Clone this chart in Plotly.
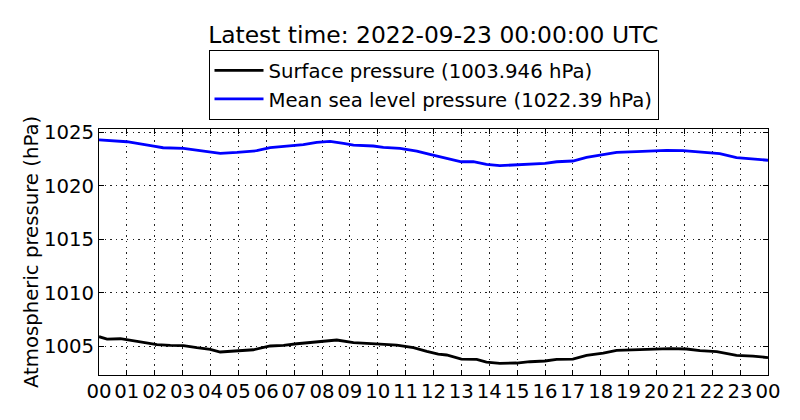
import pandas as pd
import plotly.graph_objects as go

# ---- data ----
surf_hours = [0.0, 0.29, 0.77, 1.24, 1.72, 2.08, 2.56, 3.03, 3.51, 3.99, 4.35, 4.95, 5.54,
              6.14, 6.62, 7.1, 7.57, 8.05, 8.53, 9.13, 9.6, 10.08, 10.68, 11.28, 11.76,
              12.17, 12.47, 13.0, 13.55, 13.9, 14.38, 14.98, 15.46, 16.0, 16.42, 17.0,
              17.49, 18.09, 18.57, 19.28, 20.0, 20.48, 21.08, 21.56, 22.16, 22.87, 23.46, 24.0]
surf_values = [1005.9, 1005.68, 1005.71, 1005.5, 1005.34, 1005.15, 1005.09, 1005.06, 1004.87,
               1004.72, 1004.47, 1004.56, 1004.68, 1005.03, 1005.09, 1005.24, 1005.37, 1005.52,
               1005.59, 1005.34, 1005.31, 1005.21, 1005.12, 1004.87, 1004.53, 1004.28, 1004.19,
               1003.81, 1003.78, 1003.53, 1003.41, 1003.44, 1003.56, 1003.63, 1003.78, 1003.81,
               1004.16, 1004.37, 1004.63, 1004.68, 1004.75, 1004.78, 1004.75, 1004.59, 1004.5,
               1004.16, 1004.09, 1003.946]

msl_hours = [0.0, 0.77, 1.0, 1.96, 2.3, 3.03, 3.63, 3.99, 4.35, 4.95, 5.66, 6.14, 6.86, 7.33,
             7.81, 8.29, 8.77, 9.13, 9.84, 10.2, 10.8, 11.4, 11.87, 12.35, 13.0, 13.43, 13.9,
             14.38, 14.98, 15.46, 16.0, 16.42, 17.0, 17.49, 18.09, 18.57, 19.28, 20.0, 20.36,
             20.95, 21.3, 21.8, 22.27, 22.87, 23.46, 24.0]
msl_values = [1024.3, 1024.19, 1024.12, 1023.72, 1023.56, 1023.5, 1023.28, 1023.16, 1023.04,
              1023.13, 1023.28, 1023.56, 1023.72, 1023.84, 1024.07, 1024.16, 1023.97, 1023.81,
              1023.72, 1023.6, 1023.5, 1023.25, 1022.94, 1022.66, 1022.25, 1022.25, 1022.0,
              1021.88, 1021.97, 1022.07, 1022.1, 1022.25, 1022.32, 1022.66, 1022.91, 1023.13,
              1023.19, 1023.25, 1023.32, 1023.28, 1023.22, 1023.07, 1023.0, 1022.63, 1022.53,
              1022.39]

start = pd.Timestamp("2022-09-22 00:00:00")
end = pd.Timestamp("2022-09-23 00:00:00")
surf_time = start + pd.to_timedelta(surf_hours, unit="h")
msl_time = start + pd.to_timedelta(msl_hours, unit="h")

title_text = "Latest time: 2022-09-23 00:00:00 UTC"
surf_name = "Surface pressure (1003.946 hPa)"
msl_name = "Mean sea level pressure (1022.39 hPa)"
y_title = "Atmospheric pressure (hPa)"
y_ticks = [1005, 1010, 1015, 1020, 1025]

FONT = "DejaVu Sans"
FS = 19.7

fig = go.Figure()
fig.add_trace(go.Scatter(x=surf_time, y=surf_values, mode="lines", name=surf_name,
                         line=dict(color="black", width=2.8)))
fig.add_trace(go.Scatter(x=msl_time, y=msl_values, mode="lines", name=msl_name,
                         line=dict(color="#0000ff", width=2.8)))

axis_common = dict(
    showline=True, linecolor="black", linewidth=1, mirror="allticks",
    ticks="inside", ticklen=5, tickcolor="black", tickwidth=1,
    showgrid=True, gridcolor="#222222", gridwidth=0.6, griddash="1.4px,4.2px",
    zeroline=False, tickfont=dict(family=FONT, size=FS, color="black"),
)

fig.update_xaxes(
    type="date", range=[start, end], dtick=3600000, tickformat="%H",
    tick0=start, ticklabelstandoff=-2, **axis_common,
)
fig.update_yaxes(
    range=[1002.32, 1025.31], tickvals=y_ticks,
    title=dict(text=y_title, font=dict(family=FONT, size=FS, color="black"), standoff=0),
    **axis_common,
)

fig.update_layout(
    width=800, height=420,
    margin=dict(l=99, r=32, t=129, b=45),
    paper_bgcolor="white", plot_bgcolor="white",
    font=dict(family=FONT, size=FS, color="black"),
    title=dict(text=title_text, x=0.5415, xanchor="center", y=1 - 35 / 420, yanchor="middle",
               yref="container", font=dict(family=FONT, size=23.4, color="black")),
    showlegend=True,
    legend=dict(x=0.5, xanchor="center", y=1.321, yanchor="top", itemwidth=49,
                bordercolor="black", borderwidth=1, bgcolor="white",
                font=dict(family=FONT, size=FS, color="black")),
)

fig.write_html("out.html", config={"displayModeBar": False},
               post_script="document.body.style.margin='0';")
